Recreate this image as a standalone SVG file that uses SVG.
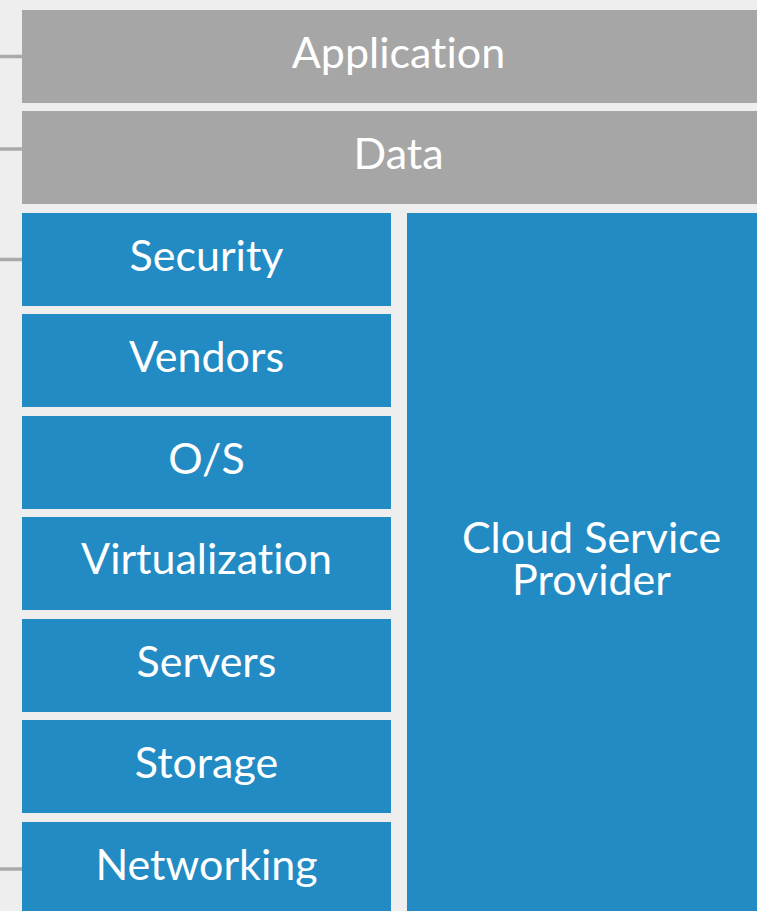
<svg xmlns="http://www.w3.org/2000/svg" width="757" height="911" viewBox="0 0 757 911">
<style>
.g{fill:#a6a6a6}
.b{fill:#238bc3}
.t{fill:#ffffff;font-family:Lato,"Open Sans",sans-serif;font-size:43px;font-weight:400;text-anchor:middle;font-variant-ligatures:none}
.k{stroke:#aaaaaa;stroke-width:3.5;fill:none}
</style>
<rect x="0" y="0" width="757" height="911" fill="#eeeeee"/>
<g id="connectors">
<line class="k" x1="0" y1="56.5" x2="22" y2="56.5"/>
<line class="k" x1="0" y1="149" x2="22" y2="149"/>
<line class="k" x1="0" y1="259.5" x2="22" y2="259.5"/>
<line class="k" x1="0" y1="869" x2="22" y2="869"/>
</g>
<g id="application"><rect class="g" x="22" y="10" width="753" height="93"/><text class="t" x="398.5" y="68">Application</text></g>
<g id="data"><rect class="g" x="22" y="111" width="753" height="93"/><text class="t" x="398.5" y="169">Data</text></g>
<g id="security"><rect class="b" x="22" y="213" width="369" height="93"/><text class="t" x="206.5" y="271">Security</text></g>
<g id="vendors"><rect class="b" x="22" y="314" width="369" height="93"/><text class="t" x="206.5" y="372">Vendors</text></g>
<g id="os"><rect class="b" x="22" y="416" width="369" height="93"/><text class="t" x="206.5" y="474">O/S</text></g>
<g id="virtualization"><rect class="b" x="22" y="517" width="369" height="93"/><text class="t" x="206.5" y="574">Virtualization</text></g>
<g id="servers"><rect class="b" x="22" y="619" width="369" height="93"/><text class="t" x="206.5" y="677">Servers</text></g>
<g id="storage"><rect class="b" x="22" y="720" width="369" height="93"/><text class="t" x="206.5" y="778">Storage</text></g>
<g id="networking"><rect class="b" x="22" y="822" width="369" height="100"/><text class="t" x="206.5" y="880">Networking</text></g>
<g id="cloud"><rect class="b" x="407" y="213" width="369" height="710"/><text class="t" x="591.5" y="553">Cloud Service</text><text class="t" x="591.5" y="595">Provider</text></g>
</svg>
